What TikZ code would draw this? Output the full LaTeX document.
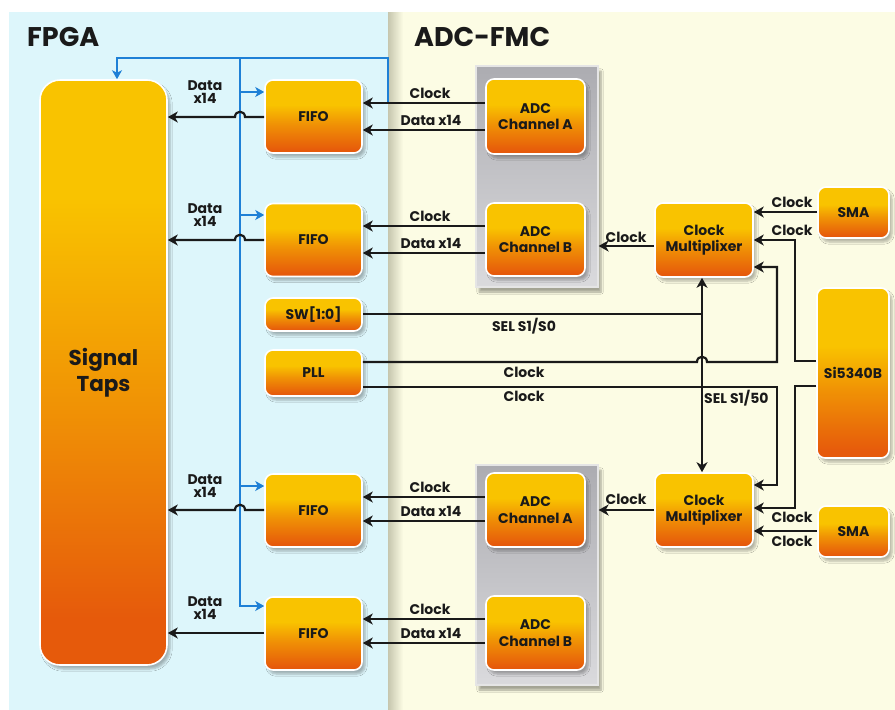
\documentclass[tikz,border=0pt]{standalone}
\usepackage{fontspec}
\setmainfont{Poppins}
\usetikzlibrary{arrows.meta,shadows,shadows.blur}
\definecolor{fpgabg}{HTML}{DDF6FB}
\definecolor{adcbg}{HTML}{FCFCE4}
\definecolor{boxtop}{HTML}{F9C300}
\definecolor{boxmid}{HTML}{F09205}
\definecolor{boxbot}{HTML}{E65A0B}
\definecolor{bluel}{HTML}{1E80D6}
\definecolor{panshadow}{HTML}{C6C6AE}
\definecolor{grayA}{HTML}{ACACB1}
\definecolor{grayB}{HTML}{DADADD}
\definecolor{ink}{HTML}{1A1A1A}
\pgfdeclareverticalshading{boxgrad}{100bp}{color(0bp)=(boxbot); color(27bp)=(boxbot); color(45bp)=(boxmid); color(58bp)=(boxtop); color(100bp)=(boxtop)}
\pgfdeclareverticalshading{tapsgrad}{100bp}{color(0bp)=(boxbot); color(29bp)=(boxbot); color(47bp)=(boxmid); color(65bp)=(boxtop); color(100bp)=(boxtop)}
\pgfdeclareverticalshading{panelgrad}{100bp}{color(0bp)=(grayB); color(25bp)=(grayB); color(75bp)=(grayA); color(100bp)=(grayA)}
\begin{document}
\begin{tikzpicture}[x=1pt,y=-1pt,
  blk/.style={rectangle, rounded corners=8pt, draw=white, line width=1.6pt, shading=boxgrad,
    blur shadow={shadow blur steps=6, shadow xshift=3pt, shadow yshift=-4pt, shadow opacity=28},
    font=\bfseries\fontsize{14}{16.5}\selectfont, align=center, inner sep=0pt, text=ink},
  graypan/.style={rectangle, draw=white!80!gray, line width=1.2pt, shading=panelgrad,
    blur shadow={shadow blur steps=6, shadow xshift=3pt, shadow yshift=-5pt, shadow opacity=35}, inner sep=0pt},
  lbl/.style={font=\bfseries\fontsize{14}{16}\selectfont, inner sep=0pt, align=center, text=ink},
  title/.style={font=\bfseries\fontsize{27}{30}\selectfont, inner sep=0pt, text=ink},
  tip/.style={-{Stealth[length=10pt,width=11pt,inset=3pt]}},
  arr/.style={line width=2.2pt, draw=ink, tip},
  wire/.style={line width=2.2pt, draw=ink},
  bwire/.style={line width=2.2pt, draw=bluel},
  barr/.style={line width=2.2pt, draw=bluel, -{Stealth[length=9pt,width=10pt,inset=2.5pt]}},
]
\useasboundingbox (0,0) rectangle (895,710);
\fill[white] (0,0) rectangle (895,710);
\fill[fpgabg] (9,12) rectangle (388,710);
\fill[adcbg] (388,12) rectangle (895,710);
\shade[left color=panshadow, right color=adcbg] (388,12) rectangle (403,710);

\node[title, anchor=west] (tf) at (27,37) {FPGA};
\node[title, anchor=west] (ta) at (414,37) {ADC-FMC};

% gray ADC panels
\node[graypan, minimum width=122pt, minimum height=221pt] (g1) at (537,176.5) {};
\node[graypan, minimum width=122pt, minimum height=220pt] (g2) at (537,575) {};

% blocks
\node[blk, shading=tapsgrad, rounded corners=20pt, minimum width=127pt, minimum height=585pt,
  font=\bfseries\fontsize{21.5}{26}\selectfont] (taps) at (103.5,372.5) {Signal\\Taps};
\foreach \n/\y in {fifo1/116.5, fifo2/240, fifo3/510.5, fifo4/633.5}
  \node[blk, minimum width=97pt, minimum height=73pt] (\n) at (313.5,\y) {FIFO};
\node[blk, minimum width=97pt, minimum height=33pt] (sw) at (313.5,314.5) {SW[1:0]};
\node[blk, minimum width=97pt, minimum height=46pt] (pll) at (313.5,373) {PLL};
\node[blk, minimum width=99pt, minimum height=75pt] (adcA1) at (535.5,116.5) {ADC\\Channel A};
\node[blk, minimum width=99pt, minimum height=73pt] (adcB1) at (535.5,239.5) {ADC\\Channel B};
\node[blk, minimum width=99pt, minimum height=74pt] (adcA2) at (535.5,510) {ADC\\Channel A};
\node[blk, minimum width=99pt, minimum height=74pt] (adcB2) at (535.5,633) {ADC\\Channel B};
\node[blk, minimum width=98pt, minimum height=74pt] (mux1) at (704,240) {Clock\\Multiplixer};
\node[blk, minimum width=98pt, minimum height=74pt] (mux2) at (704,510) {Clock\\Multiplixer};
\node[blk, minimum width=71pt, minimum height=51pt] (sma1) at (853.5,212.5) {SMA};
\node[blk, minimum width=71pt, minimum height=51pt] (sma2) at (853.5,531.5) {SMA};
\node[blk, minimum width=72pt, minimum height=170pt] (si) at (853,373) {Si5340B};

% blue clock distribution
\coordinate (j) at (388,103);
\draw[barr] (j) -- (388,58) -- (117,58) -- (taps.north -| 117,0);
\draw[bwire] (240,58) -- (240,607);
\draw[barr] (240,92) -- (fifo1.west |- 0,92);
\draw[barr] (240,215) -- (fifo2.west |- 0,215);
\draw[barr] (240,486) -- (fifo3.west |- 0,486);
\draw[barr] (240,606) -- (fifo4.west |- 0,606);

% FIFO -> Signal Taps
\foreach \n/\y in {fifo1/117, fifo2/240, fifo3/510}
  \draw[arr] (\n.west |- 0,\y) -- (245,\y) .. controls (245,\y-7) and (235,\y-7) .. (235,\y) -- (taps.east |- 0,\y);
\draw[arr] (fifo4.west |- 0,633) -- (taps.east |- 0,633);
\foreach \y in {92, 215, 486, 608}
  \node[lbl] at (205,\y) {Data\\[-2.5pt]x14};

% ADC -> FIFO
\foreach \a/\f/\c/\d in {adcA1/fifo1/103/130, adcB1/fifo2/226/253, adcA2/fifo3/497/521, adcB2/fifo4/619/643}{
  \draw[arr] (\a.west |- 0,\c) -- (\f.east |- 0,\c);
  \draw[arr] (\a.west |- 0,\d) -- (\f.east |- 0,\d);
  \node[lbl] at (430,\c-10) {Clock};
  \node[lbl] at (431,\d-9.5) {Data x14};
}

% Mux -> ADC
\draw[arr] (mux1.west |- 0,246) -- (g1.east |- 0,246);
\node[lbl] at (626,237) {Clock};
\draw[arr] (mux2.west |- 0,510) -- (g2.east |- 0,510);
\node[lbl] at (626,499) {Clock};

% SMA -> Mux
\draw[arr] (sma1.west |- 0,212) -- (mux1.east |- 0,212);
\node[lbl] at (792,202) {Clock};
\draw[arr] (sma2.west |- 0,531) -- (mux2.east |- 0,531);
\node[lbl] at (792,541) {Clock};

% Si5340B -> Mux
\draw[arr] (si.west |- 0,361) -- (795,361) -- (795,240) -- (mux1.east |- 0,240);
\node[lbl] at (792,230) {Clock};
\draw[arr] (si.west |- 0,386) -- (795,386) -- (795,508) -- (mux2.east |- 0,508);
\node[lbl] at (792,517) {Clock};

% PLL -> Mux
\draw[arr] (pll.east |- 0,362) -- (697,362) .. controls (697,355) and (707,355) .. (707,362) -- (777,362) -- (777,267) -- (mux1.east |- 0,267);
\draw[arr] (pll.east |- 0,387) -- (777,387) -- (777,485) -- (mux2.east |- 0,485);
\node[lbl] at (524,372) {Clock};
\node[lbl] at (524,396) {Clock};

% SW -> SEL
\draw[line width=2.2pt, draw=ink, {Stealth[length=10pt,width=11pt,inset=3pt]}-{Stealth[length=10pt,width=11pt,inset=3pt]}]
  (mux1.south -| 702,0) -- (mux2.north -| 702,0);
\draw[wire] (sw.east |- 0,314) -- (702,314);
\node[lbl] at (524,326) {SEL S1/S0};
\node[lbl, anchor=west] at (704,398) {SEL S1/50};
\end{tikzpicture}
\end{document}
